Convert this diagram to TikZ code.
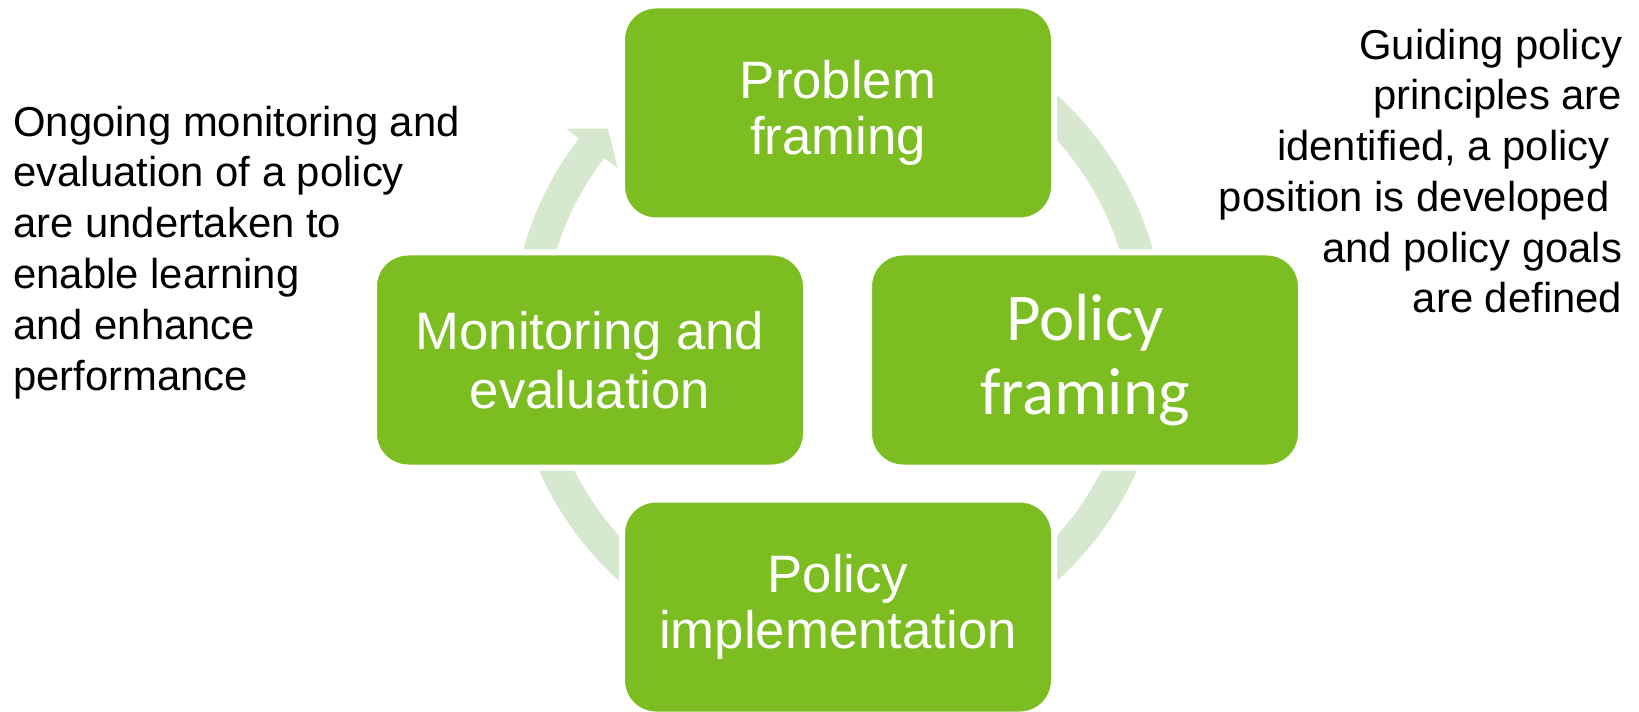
\documentclass[tikz,border=0pt]{standalone}
\usepackage{fontspec}
\setmainfont{Liberation Sans}
\newfontfamily\calibri{Carlito}
\usetikzlibrary{positioning}
\definecolor{leaf}{RGB}{124,189,34}
\definecolor{pale}{RGB}{214,232,205}
\tikzset{
  stage/.style = {draw=white, line width=1.2mm, fill=leaf, rounded corners=6.8mm,
                  minimum width=8.64cm, minimum height=4.3cm, align=center, text=white,
                  font=\fontsize{30}{31.5}\selectfont},
  band/.style  = {draw=pale, line width=6.4mm},
  note/.style  = {inner sep=0pt, font=\fontsize{23.8}{28.9}\selectfont},
}

\begin{document}
\begin{tikzpicture}
    \useasboundingbox (0,0) rectangle (32.78,14.22);

    % Hub of the cycle, ring a little above it
    \coordinate (hub) at (16.76,7.02);
    \coordinate[above=4.4mm of hub] (ring);

    % Pale ring segments (ends hidden under the stages)
    \begin{scope}[shift={(ring)}]
      \foreach \a in {65,-5,-115}
        \draw[band] (\a:6.22) arc[start angle=\a, delta angle=-60, radius=6.22];
      \fill[pale] (175:6.54) arc[start angle=175, end angle=142.4, radius=6.54]
        -- (142.4:6.86) -- (137.7:6.22) -- (142.4:5.56) -- (142.4:5.90)
        arc[start angle=142.4, end angle=175, radius=5.90] -- cycle;
    \end{scope}

    % Four stages
    \node[stage, above=2.73cm of hub] (problem) {Problem\\framing};
    \node[stage, right=0.56cm of hub, font=\calibri\fontsize{38}{42.5}\selectfont] (policy) {Policy\\framing};
    \node[stage, below=2.73cm of hub] (impl) {Policy\\implementation};
    \node[stage, left=0.58cm of hub, font=\fontsize{30}{33.4}\selectfont] (monitor) {Monitoring and\\evaluation};

    % Side notes
    \node[note, anchor=base west, align=left] (evalnote) at (0.26,6.42)
      {Ongoing monitoring and\\evaluation of a policy\\are undertaken to\\enable learning\\and enhance\\performance};
    \node[note, anchor=base east, align=right] (policynote) at (32.45,7.96)
      {Guiding policy\\principles are\\identified, a policy\kern0.3em\\position is developed\kern0.3em\\and policy goals\\are defined};
\end{tikzpicture}
\end{document}
